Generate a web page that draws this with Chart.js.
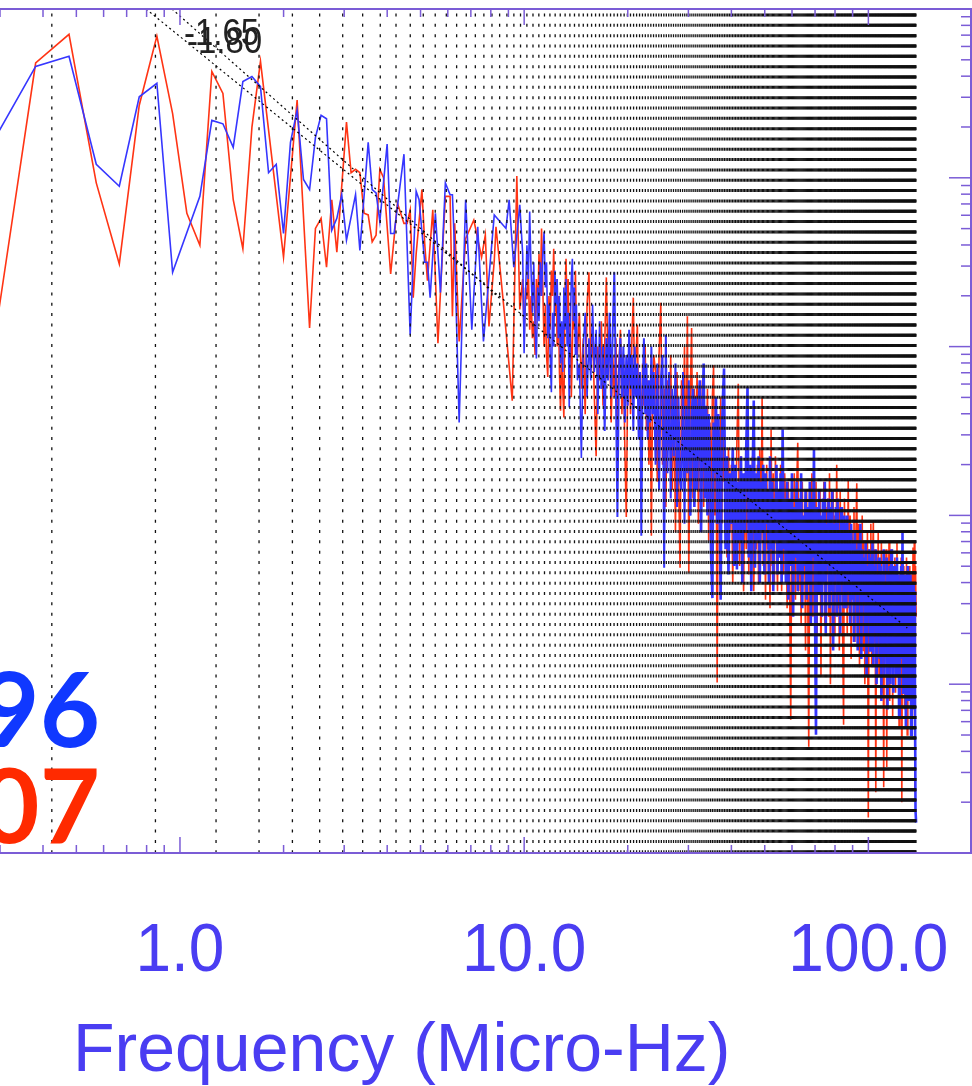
<!DOCTYPE html>
<html>
<head>
<meta charset="utf-8">
<title>Power spectra</title>
<script src="https://cdn.jsdelivr.net/npm/chart.js@4.4.1/dist/chart.umd.min.js"></script>
<style>
  html, body { margin: 0; padding: 0; background: #fff; }
  #wrap { width: 972px; height: 1086px; }
</style>
</head>
<body>
<div id="wrap"><canvas id="spec" width="972" height="1086"></canvas></div>
<script>
// frequency resolution of both spectra (micro-Hz per bin)
const DF = 0.0952;
// dotted guides at rotation harmonics (micro-Hz)
const ROT_HARMONIC = 0.4243;
const ROT_COUNT = 324;

// low frequency part, vertex by vertex (bin index, log10 power)
const redBins = [3,4,5,6,7,8,9,10,11,12,13,14,15,16,17,18,21,23,25,26,27,28,29,30,32,33,34,35,36,37,
  38,39,40,41,43,45,47,48,49,50,51,53,54,55,57,59,60,62,64,65,66,68,71,75,79,81,83,86,87,92,97,100,102];
const redLogP = [2.97,4.68,4.85,3.97,3.49,4.43,4.84,4.38,3.79,3.60,4.63,4.50,3.87,3.58,4.30,4.69,3.53,4.46,3.11,3.70,
  3.76,3.47,3.87,3.56,4.33,4.03,4.05,4.03,3.79,3.78,3.62,3.66,4.05,4.00,3.43,3.85,3.73,3.73,3.81,3.29,
  3.55,3.93,3.61,3.39,3.81,3.02,3.32,3.89,3.89,3.18,3.73,3.03,3.64,3.75,3.53,3.66,3.12,3.51,3.71,3.20,
  2.68,4.01,3.22];

const blueBins = [3,4,5,6,7,8,9,10,12,13,14,15,16,17,18,19,20,21,22,23,24,25,26,27,28,29,30,31,32,34,
  35,37,38,39,40,42,43,44,47,49,51,52,54,55,56,58,60,62,64,65,66,68,71,74,77,80,83,86,93,95,98,102];
const blueLogP = [4.21,4.66,4.72,4.08,3.95,4.48,4.56,3.44,3.89,4.34,4.32,4.18,4.57,4.60,4.54,4.03,4.08,3.67,4.21,4.40,
  3.99,3.93,4.24,4.37,4.35,3.69,3.76,3.90,3.63,3.90,3.57,4.21,3.93,3.91,3.74,4.20,3.67,3.67,4.14,3.07,
  3.92,3.87,3.50,3.50,3.29,3.79,3.32,3.97,3.90,3.90,3.55,2.55,3.87,3.10,3.71,3.03,3.41,3.78,3.70,3.87,
  3.47,3.84];

// high frequency part: [first bin, last bin, step]
const denseSteps = [[104,150,1],[152,250,2],[253,400,3],[404,600,4],[605,900,5],[906,1446,6]];

const redDense = [
  3.40,3.05,3.35,3.28,3.45,3.10,3.30,3.05,3.15,2.95, 3.40,3.20,3.55,3.30,3.70,3.35,3.00,3.25,2.95,2.82,
  3.30,3.10,3.45,3.30,3.58,3.20,3.40,3.00,3.30,2.85, 2.62,3.00,2.75,2.58,3.30,3.52,3.20,3.40,2.90,3.20,
  2.70,3.00,3.30,3.10,3.45,3.10,2.95,
  3.20,2.75,3.05,2.60,3.25,3.44,2.85,3.10,2.70,2.35, 3.00,2.80,3.15,2.65,3.00,3.41,2.90,3.10,2.55,2.95,
  2.70,3.05,2.50,2.90,3.10,2.60,2.95,2.40,1.99,2.80, 3.00,2.60,3.05,3.29,2.75,2.95,3.13,2.55,2.85,2.40,
  2.90,2.65,3.00,2.50,2.80,2.30,2.75,1.88,2.70,2.95,
  2.85,2.20,2.95,3.26,2.30,2.75,2.05,2.80,2.40,2.95, 2.15,2.70,1.90,2.85,2.25,1.69,2.80,2.35,3.00,2.20,
  3.18,1.66,2.70,3.11,2.10,2.75,2.30,2.85,1.95,2.65, 2.20,2.80,2.05,2.60,2.25,2.75,1.85,2.55,2.10,2.70,
  2.89,2.00,2.60,1.01,2.45,2.15,2.70,1.95,2.55,2.20,
  2.25,1.75,2.40,1.90,2.30,1.60,2.20,1.85,2.45,2.78, 1.70,2.35,1.95,1.55,2.25,1.80,2.40,1.65,2.20,1.90,
  2.35,1.55,2.15,1.80,2.30,1.60,2.40,1.85,2.70,1.70, 2.20,1.50,2.30,1.80,2.10,1.45,2.51,1.70,2.25,1.60,
  2.35,1.95,1.55,2.15,1.75,2.30,1.55,2.05,1.65,2.25,
  2.05,1.45,2.20,1.60,0.79,2.10,1.70,2.25,1.50,2.15, 2.43,1.55,2.10,1.35,2.20,1.65,2.00,1.20,2.15,1.55,
  0.63,2.05,1.60,2.25,1.40,2.10,1.70,2.20,1.30,2.00, 1.55,2.15,1.05,1.95,1.60,2.20,1.35,2.05,1.65,2.10,
  1.40,2.25,1.00,1.95,1.55,2.15,1.30,2.00,1.60,2.30, 1.45,2.05,1.20,2.15,1.55,1.95,1.25,0.76,2.10,1.60,
  1.95,1.30,2.21,1.45,2.00,1.15,1.90,1.55,2.05,1.25, 1.85,2.19,1.40,1.95,1.10,1.80,1.50,2.00,1.20,1.85,
  1.00,1.75,1.45,1.90,0.21,1.80,1.35,1.95,1.10,1.70, 1.97,1.25,1.80,0.36,1.75,1.40,1.90,1.05,1.70,1.30,
  1.85,0.95,1.65,0.39,1.75,1.20,1.80,0.51,1.70,1.35, 1.85,0.90,1.65,1.25,1.80,0.80,1.60,1.30,1.75,0.95,
  1.70,1.84,1.10,1.60,0.75,1.65,1.20,1.75,0.30,1.60, 1.05,1.70,0.85,1.55,1.25,1.75,0.70,1.60,1.15,1.70,
  0.90,1.55,1.20,1.65,0.80,1.81,1.00,1.85,0.36,1.70, 1.40
];

const blueDense = [
  3.55,2.96,3.30,3.60,3.40,3.80,3.45,3.20,3.50,3.10, 2.93,3.35,3.15,3.50,3.30,3.55,3.68,3.35,3.50,3.05,
  3.25,2.95,2.73,3.20,3.00,3.45,3.25,3.40,3.05,3.30, 2.90,3.15,2.85,3.35,3.10,3.40,3.00,3.20,2.64,3.10,
  3.40,3.52,3.15,3.35,2.95,3.25,2.80,
  2.90,2.34,3.00,3.20,2.70,3.05,2.80,3.25,2.85,3.10, 2.60,3.15,2.75,3.00,2.50,3.05,2.80,3.20,2.70,3.10,
  3.44,2.75,1.99,2.85,3.05,2.70,3.00,2.55,2.95,2.65, 3.10,2.75,2.95,2.50,3.00,2.70,2.90,2.45,2.85,1.88,
  2.75,3.05,2.60,2.90,2.45,2.80,2.55,3.00,2.60,2.85,
  2.30,2.90,2.15,2.80,2.95,1.69,3.07,2.25,2.85,2.10, 2.75,2.35,2.90,2.05,2.70,2.20,2.15,2.85,1.95,2.65,
  2.25,2.80,2.00,2.55,2.75,2.05,2.70,2.15,2.60,2.80, 1.90,2.55,2.90,2.10,2.65,2.00,2.60,2.30,1.75,1.51,
  2.55,2.25,2.70,1.95,2.60,2.15,1.50,2.45,2.70,2.87,
  1.80,2.35,1.65,2.25,1.95,2.40,1.70,2.30,1.68,2.20, 1.85,2.35,1.60,2.25,1.90,2.40,2.76,1.75,2.30,1.55,
  2.20,2.68,1.69,2.25,1.85,2.35,1.60,2.20,1.90,2.30, 1.65,2.25,1.95,2.15,1.60,2.35,1.80,2.20,1.55,2.10,
  1.85,2.30,1.65,2.15,1.75,2.25,1.60,2.51,1.80,2.10,
  1.60,2.20,1.50,2.10,1.70,2.25,1.40,2.05,1.75,2.20, 1.55,2.10,1.65,2.25,1.45,2.00,1.70,2.15,1.50,2.05,
  1.60,2.20,1.35,2.10,1.75,2.39,1.45,0.70,2.05,1.55, 2.15,1.65,2.00,1.40,2.10,1.60,2.20,1.30,1.95,1.70,
  2.10,1.45,2.05,1.55,2.15,1.20,1.95,1.65,2.05,1.40, 2.10,1.55,1.90,1.30,2.05,1.60,1.95,1.45,2.00,1.50,
  1.45,2.00,1.55,1.90,1.35,1.95,1.50,1.85,1.25,1.90, 1.55,1.80,1.20,1.85,1.60,1.95,1.15,1.80,1.50,1.75,
  1.30,1.85,1.05,1.70,1.45,1.80,1.20,1.75,1.50,1.85, 1.10,1.70,1.35,1.80,1.00,1.65,1.40,1.75,1.15,1.70,
  0.90,1.65,1.35,1.80,1.05,1.60,1.25,1.75,0.85,1.65, 1.30,1.70,1.00,1.80,1.20,1.65,0.95,1.70,1.35,1.60,
  1.05,1.75,1.30,1.65,0.80,1.60,1.15,1.70,1.25,1.90, 0.95,1.55,1.20,1.65,0.75,1.60,1.10,1.70,0.90,1.55,
  1.25,1.65,0.70,1.50,1.15,1.60,0.85,1.55,1.05,0.25, 0.18
];

// power-law fits drawn as dotted lines (freq in micro-Hz, log10 power)
const fitFreq165 = [0.797, 129.7];
const fitLogP165 = [5.0, 1.333];
const fitFreq180 = [0.948, 8.61];
const fitLogP180 = [5.0, 3.275];

const xTickValues = [1, 10, 100];
const xTickLabels = ["1.0", "10.0", "100.0"];

// ---- build points ----
const denseBins = [];
denseSteps.forEach(([a, b, s]) => {
  for (let n = a; n <= b; n += s) denseBins.push(n);
});

function check(name, a, b) {
  if (a.length !== b.length) throw new Error(name + " length " + a.length + " vs " + b.length);
}
check("red", redBins, redLogP);
check("blue", blueBins, blueLogP);
check("redDense", denseBins, redDense);
check("blueDense", denseBins, blueDense);

const binPoints = (bins, logp) => bins.map((n, i) => ({ x: n * DF, y: Math.pow(10, logp[i]) }));
const fitPoints = (f, logp) => f.map((v, i) => ({ x: v, y: Math.pow(10, logp[i]) }));

const redPts = binPoints(redBins, redLogP).concat(binPoints(denseBins, redDense));
const bluePts = binPoints(blueBins, blueLogP).concat(binPoints(denseBins, blueDense));

const AXIS = "#7b5cd6";
const LABEL = "#4a3df2";

// the real spectrum has many bins per pixel up there, so thicken the
// sampled line where it would otherwise look too sparse
const blueWidth = c => (c.p0.x > 690 ? 2.6 : c.p0.x > 600 ? 2.0 : undefined);

function stretchText(ctx, text, x, y, sy) {
  ctx.save();
  ctx.translate(x, y);
  ctx.scale(1, sy);
  ctx.fillText(text, 0, 0);
  ctx.restore();
}

// IDL-like frame: dotted harmonics, inward ticks, big labels
const idlFrame = {
  id: "idlFrame",
  afterDatasetsDraw(chart) {
    const { ctx, chartArea: a, scales: { x, y } } = chart;
    ctx.save();

    // rotation harmonics
    ctx.strokeStyle = "#111";
    ctx.lineWidth = 1.3;
    ctx.setLineDash([3, 7.33]);
    ctx.lineDashOffset = 5.83;
    for (let k = 1; k <= ROT_COUNT; k++) {
      const px = x.getPixelForValue(k * ROT_HARMONIC);
      if (px < a.left || px > a.right) continue;
      ctx.beginPath();
      ctx.moveTo(px, a.top);
      ctx.lineTo(px, a.bottom);
      ctx.stroke();
    }
    ctx.setLineDash([]);

    // box
    ctx.strokeStyle = AXIS;
    ctx.lineWidth = 2;
    ctx.beginPath();
    ctx.moveTo(a.left, a.top);
    ctx.lineTo(a.right, a.top);
    ctx.lineTo(a.right, a.bottom);
    ctx.lineTo(a.left, a.bottom);
    ctx.stroke();

    // x ticks, top and bottom
    ctx.lineWidth = 1.5;
    for (let d = -1; d <= 2; d++) {
      for (let m = 1; m <= 9; m++) {
        const v = m * Math.pow(10, d);
        if (v < x.min || v > x.max) continue;
        const px = x.getPixelForValue(v);
        const len = m === 1 ? 16 : 8;
        ctx.beginPath();
        ctx.moveTo(px, a.bottom);
        ctx.lineTo(px, a.bottom - len);
        ctx.moveTo(px, a.top);
        ctx.lineTo(px, a.top + len);
        ctx.stroke();
      }
    }
    // y ticks on the right
    for (let d = 0; d <= 4; d++) {
      for (let m = 1; m <= 9; m++) {
        const v = m * Math.pow(10, d);
        if (v < y.min || v > y.max) continue;
        const py = y.getPixelForValue(v);
        const len = m === 1 ? 22 : 10;
        ctx.beginPath();
        ctx.moveTo(a.right, py);
        ctx.lineTo(a.right - len, py);
        ctx.stroke();
      }
    }
    ctx.restore();
  },
  afterDraw(chart) {
    const { ctx, scales: { x } } = chart;
    ctx.save();
    ctx.textBaseline = "alphabetic";

    // fit slopes
    ctx.fillStyle = "#222";
    ctx.textAlign = "left";
    ctx.font = '33px "Liberation Sans", Arial, sans-serif';
    stretchText(ctx, "-1.65", 184, 45, 1.12);
    stretchText(ctx, "-1.80", 187, 53, 1.12);

    // years
    ctx.textAlign = "right";
    ctx.font = 'bold 104px Lato, "Noto Sans", sans-serif';
    ctx.fillStyle = "#1038ff";
    ctx.fillText("96", 100, 747);
    ctx.fillStyle = "#ff2a00";
    ctx.fillText("07", 100, 843);

    // x tick labels
    ctx.fillStyle = LABEL;
    ctx.textAlign = "center";
    ctx.font = '64px "Liberation Sans", Arial, sans-serif';
    xTickValues.forEach((v, i) => {
      stretchText(ctx, xTickLabels[i], x.getPixelForValue(v), 971, 1.07);
    });

    // axis title
    ctx.textAlign = "left";
    ctx.font = '68px "Liberation Sans", Arial, sans-serif';
    ctx.fillText("Frequency (Micro-Hz)", 73, 1071);
    ctx.restore();
  }
};

new Chart(document.getElementById("spec"), {
  type: "line",
  data: {
    datasets: [
      { label: "-1.65", data: fitPoints(fitFreq165, fitLogP165), borderColor: "#000", borderWidth: 1.2, borderDash: [2, 3], order: 0 },
      { label: "-1.80", data: fitPoints(fitFreq180, fitLogP180), borderColor: "#000", borderWidth: 1.2, borderDash: [2, 3], order: 0 },
      { label: "96", data: bluePts, borderColor: "#3636ff", borderWidth: 1.6, order: 1,
        segment: { borderWidth: blueWidth } },
      { label: "07", data: redPts, borderColor: "#ff3414", borderWidth: 1.6, order: 2 }
    ]
  },
  options: {
    responsive: false,
    animation: false,
    parsing: false,
    normalized: true,
    layout: { padding: { left: 0, right: 1, top: 9, bottom: 233 } },
    elements: { point: { radius: 0 }, line: { tension: 0 } },
    plugins: { legend: { display: false }, tooltip: { enabled: false } },
    scales: {
      x: { type: "logarithmic", min: 0.307, max: 198.7, display: false },
      y: { type: "logarithmic", min: 1, max: 1e5, display: false }
    }
  },
  plugins: [idlFrame]
});
</script>
</body>
</html>
